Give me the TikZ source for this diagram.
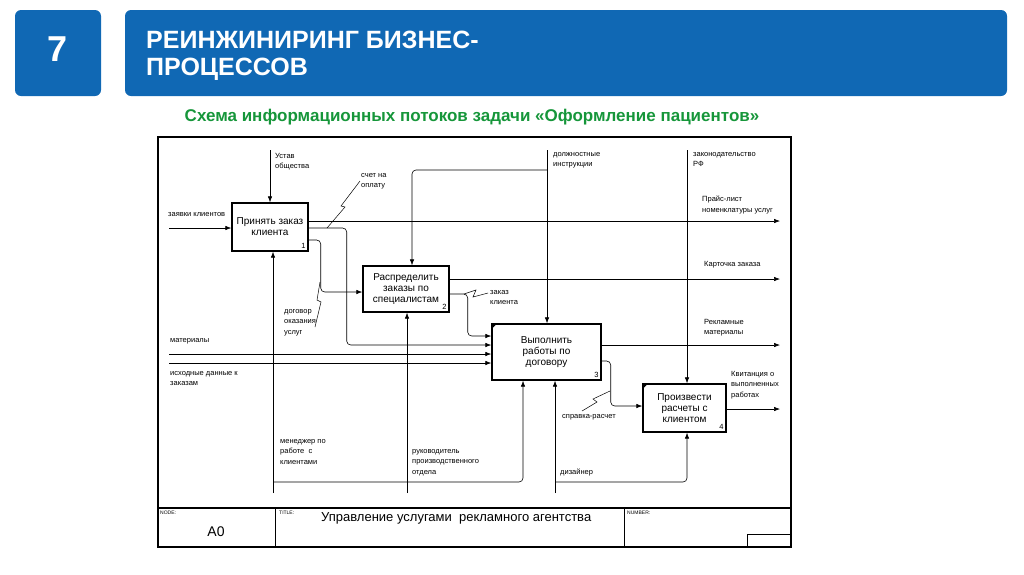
\documentclass[tikz,border=0pt]{standalone}
\usepackage{fontspec}
\setmainfont{Liberation Sans}
\usepackage{xcolor}
\usetikzlibrary{calc,arrows.meta}
\definecolor{hdrblue}{RGB}{16,104,180}
\definecolor{subgreen}{RGB}{22,150,58}

\begin{document}
\begin{tikzpicture}[x=1pt,y=-1pt,>={Latex[length=6pt,width=4.5pt]},
	func/.style={draw,line width=1.4pt,align=center,inner sep=1pt,font=\fontsize{10}{11}\selectfont},
	lbl/.style={anchor=north west,align=left,inner sep=0pt,font=\fontsize{7.5}{10.5}\selectfont},
	flow/.style={line width=0.6pt,rounded corners=4pt},
	squig/.style={line width=0.5pt},
	num/.style={anchor=south east,inner sep=0pt,font=\fontsize{7.5}{9}\selectfont}]
	
	\useasboundingbox (0,0) rectangle (1024,574);
	
	\fill[hdrblue,rounded corners=6pt] (15,10) rectangle (101,96);
	\fill[hdrblue,rounded corners=6pt] (125,10) rectangle (1007,96);
	\node[white,font=\fontsize{36}{36}\bfseries\selectfont] (num7) at (58,49) {7};
	\node[white,anchor=north west,align=left,inner sep=0pt,font=\fontsize{25}{27}\bfseries\selectfont] (ttl) at (146,31) {РЕИНЖИНИРИНГ БИЗНЕС-\\ПРОЦЕССОВ};
	\node[subgreen,font=\fontsize{17}{20}\bfseries\selectfont] (sub) at (472,117) {Схема информационных потоков задачи «Оформление пациентов»};
	
	\draw[line width=1.1pt] (158,137) rectangle (791,547);
	\draw[line width=1.1pt] (158,508) -- (791,508);
	\draw[line width=0.8pt] (275,508) -- (275,547) (624,508) -- (624,547);
	\draw[line width=0.8pt] (747,534) rectangle (791,547);
	\node[lbl,font=\fontsize{5}{6}\selectfont] (tnode) at (160,511) {NODE:};
	\node[font=\fontsize{14}{14}\selectfont] (tA0) at (216,532) {A0};
	\node[lbl,font=\fontsize{5}{6}\selectfont] (ttitle) at (279,511) {TITLE:};
	\node[anchor=west,inner sep=0pt,font=\fontsize{13}{14}\selectfont] (tname) at (321,518) {Управление услугами\ \ рекламного агентства};
	\node[lbl,font=\fontsize{5}{6}\selectfont] (tnum) at (627,511) {NUMBER:};
	
	\node[func,minimum width=76pt,minimum height=48pt] (b1) at (270,227) {Принять заказ\\клиента};
	\node[func,minimum width=86pt,minimum height=46pt] (b2) at (406,289) {Распределить\\заказы по\\специалистам};
	\node[func,minimum width=109pt,minimum height=56pt] (b3) at (546.5,352) {Выполнить\\работы по\\договору};
	\node[func,minimum width=83pt,minimum height=48pt] (b4) at (684.5,408) {Произвести\\расчеты с\\клиентом};
	\node[num] (n1) at ($(b1.south east)+(-3,-3)$) {1};
	\node[num] (n2) at ($(b2.south east)+(-3,-3)$) {2};
	\node[num] (n3) at ($(b3.south east)+(-3,-3)$) {3};
	\node[num] (n4) at ($(b4.south east)+(-3,-3)$) {4};
	\fill (b3.north west) -- ++(6,0) -- ++(-6,6) -- cycle;
	\fill (b4.north west) -- ++(6,0) -- ++(-6,6) -- cycle;
	
	\coordinate (inZ) at (169,228);
	\coordinate (inM) at (169,354);
	\coordinate (inI) at (169,363);
	\coordinate (ctlU) at (270,150);
	\coordinate (ctlD) at (547,150);
	\coordinate (ctlL) at (687,150);
	\coordinate (outP) at (780,221);
	\coordinate (outK) at (780,279);
	\coordinate (outR) at (780,345);
	\coordinate (outQ) at (780,409);
	\coordinate (mM) at (273,493);
	\coordinate (mR) at (407,493);
	\coordinate (mD) at (555,493);
	
	\draw[flow,->] (inZ) -- (inZ -| b1.west);
	\draw[flow,->] (inM) -- (inM -| b3.west);
	\draw[flow,->] (inI) -- (inI -| b3.west);
	
	\draw[flow,->] (ctlU) -- (b1.north);
	\draw[flow,->] (ctlD) -- (ctlD |- b3.north);
	\draw[flow,->] ($(ctlD)+(0,20)$) -| ($(b2.north)+(6,0)$);
	\draw[flow,->] (ctlL) -- (ctlL |- b4.north);
	
	\draw[flow,->] (outP -| b1.east) -- (outP);
	\draw[flow,->] (outK -| b2.east) -- (outK);
	\draw[flow,->] (outR -| b3.east) -- (outR);
	\draw[flow,->] (outQ -| b4.east) -- (outQ);
	
	\draw[flow,->] ($(b1.east)+(0,1)$) -| ++(38,40) |- ($(b3.west)+(0,-7)$);
	\draw[flow,->] ($(b1.east)+(0,13)$) -| ++(12,20) |- ($(b2.west)+(0,3)$);
	\draw[flow,->] ($(b2.east)+(0,5)$) -| ++(18,20) |- ($(b3.west)+(0,-16)$);
	\draw[flow,->] ($(b3.east)+(0,9)$) -| ++(9,20) |- ($(b4.west)+(0,-2)$);
	
	\draw[flow,->] (mM) -- (mM |- b1.south);
	\draw[flow,->] ($(mM)+(0,-11)$) -| ($(b3.south)+(-23.5,0)$);
	\draw[flow,->] (mR) -- (mR |- b2.south);
	\draw[flow,->] (mD) -- (mD |- b3.south);
	\draw[flow,->] ($(mD)+(0,-11)$) -| ($(b4.south)+(2.5,0)$);
	
	\draw[squig] (327,228) -- (345,207) -- (341,206) -- (360,181);
	\draw[squig] (320,282) -- (317,300) -- (321,302) -- (315,327);
	\draw[squig] (464,294) -- (476,290) -- (473,297) -- (488,293);
	\draw[squig] (610,391) -- (593,399) -- (597,402) -- (582,411);
	
	\node[lbl] (lZ) at (168,212) {заявки клиентов};
	\node[lbl] (lU) at (275,153) {Устав\\общества};
	\node[lbl] (lS) at (361,173) {счет на\\оплату};
	\node[lbl] (lD) at (553,152) {должностные\\инструкции};
	\node[lbl] (lL) at (693,152) {законодательство\\РФ};
	\node[lbl] (lP) at (702,196) {Прайс-лист\\номенклатуры услуг};
	\node[lbl] (lK) at (704,261) {Карточка заказа};
	\node[lbl] (lG) at (284,309) {договор\\оказания\\услуг};
	\node[lbl] (lC) at (490,290) {заказ\\клиента};
	\node[lbl] (lM) at (170,338) {материалы};
	\node[lbl] (lI) at (170,371) {исходные данные к\\заказам};
	\node[lbl] (lR) at (704,319) {Рекламные\\материалы};
	\node[lbl] (lQ) at (731,371) {Квитанция о\\выполненных\\работах};
	\node[lbl] (lSR) at (562,414) {справка-расчет};
	\node[lbl] (lMM) at (280,439) {менеджер по\\работе\ \ с\\клиентами};
	\node[lbl] (lRR) at (412,449) {руководитель\\производственного\\отдела};
	\node[lbl] (lDD) at (560,469) {дизайнер};
\end{tikzpicture}
\end{document}
